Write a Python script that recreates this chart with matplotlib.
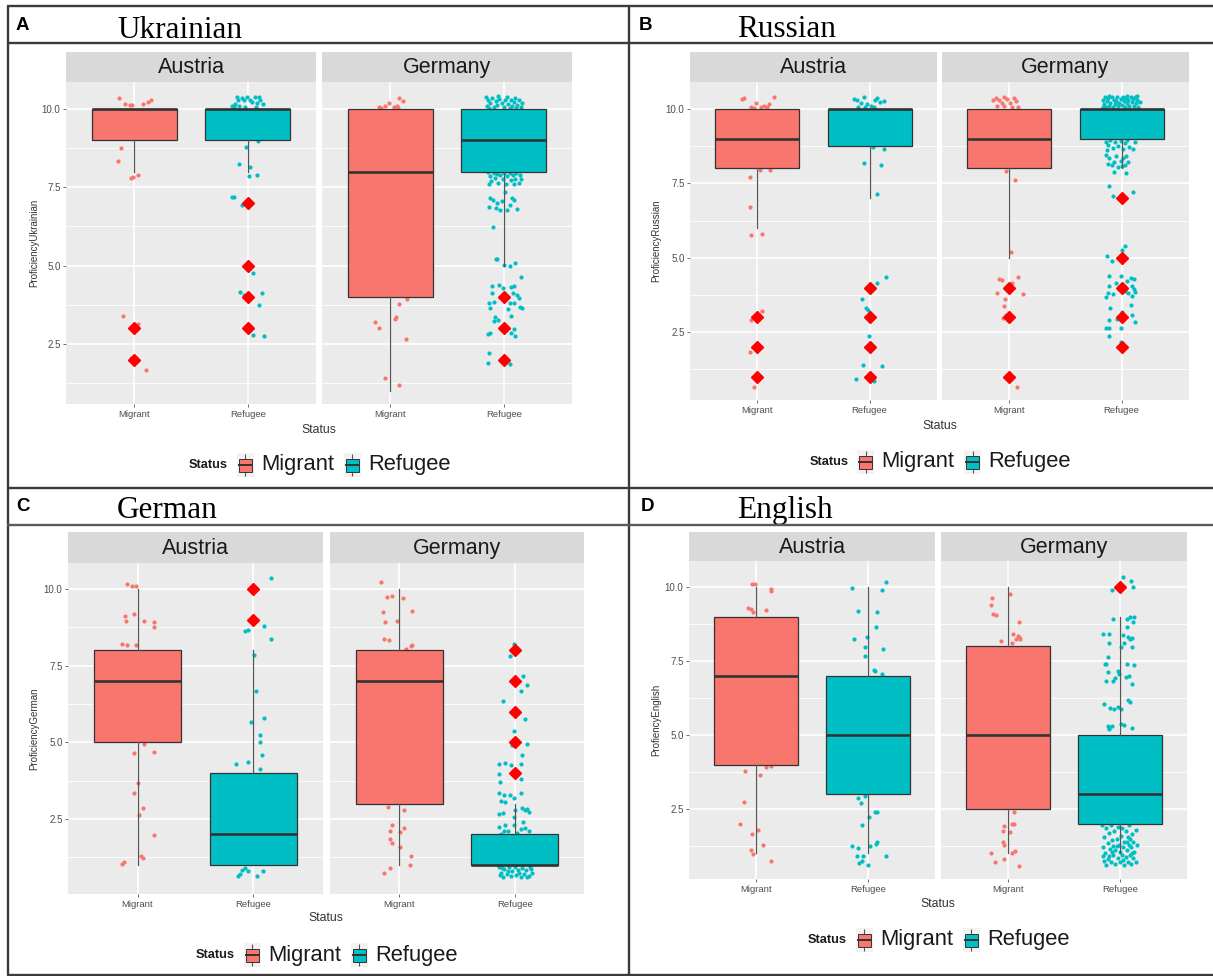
import matplotlib
matplotlib.use("Agg")
import matplotlib.pyplot as plt
from matplotlib.patches import Rectangle
from matplotlib.lines import Line2D

plt.rcParams['font.family'] = ['Liberation Sans', 'DejaVu Sans']

W, H = 1213, 976
fig = plt.figure(figsize=(W / 100, H / 100), dpi=100)
fig.patch.set_facecolor('white')

MIG_COLOR = '#F8766D'
REF_COLOR = '#00BFC4'

countries = ['Austria', 'Germany']
statuses = ['Migrant', 'Refugee']
ytick_values = [2.5, 5.0, 7.5, 10.0]
ytick_labels = ['2.5', '5.0', '7.5', '10.0']

# ---------------------------------------------------------------- data
# Box statistics in the order Austria-Migrant, Austria-Refugee,
# Germany-Migrant, Germany-Refugee.
ukr_q1 = [9, 9, 4, 8]
ukr_med = [10, 10, 8, 9]
ukr_q3 = [10, 10, 10, 10]
ukr_lo = [8, 8, 1, 5]
ukr_hi = [10, 10, 10, 10]
ukr_out = [[3, 2], [7, 5, 4, 3], [], [4, 3, 2]]

rus_q1 = [8, 8.75, 8, 9]
rus_med = [9, 10, 9, 10]
rus_q3 = [10, 10, 10, 10]
rus_lo = [6, 7, 5, 8]
rus_hi = [10, 10, 10, 10]
rus_out = [[3, 2, 1], [4, 3, 2, 1], [4, 3, 1], [7, 5, 4, 3, 2]]

ger_q1 = [5, 1, 3, 1]
ger_med = [7, 2, 7, 1]
ger_q3 = [8, 4, 8, 2]
ger_lo = [1, 1, 1, 1]
ger_hi = [10, 8, 10, 3]
ger_out = [[], [10, 9], [], [8, 7, 6, 5, 4]]

eng_q1 = [4, 3, 2.5, 2]
eng_med = [7, 5, 5, 3]
eng_q3 = [9, 7, 8, 5]
eng_lo = [1, 1, 1, 1]
eng_hi = [10, 10, 10, 9]
eng_out = [[], [], [], [10]]

# Jittered responses: (horizontal jitter, proficiency)
ukr_at_mig_pts = [(-0.13, 10.36), (-0.08, 10.15), (-0.04, 10.13), (-0.02, 10.12), (0.08, 10.16),
                  (0.125, 10.23), (0.15, 10.27), (-0.12, 8.75), (-0.14, 8.35), (-0.03, 7.8),
                  (-0.01, 7.82), (0.035, 7.9), (-0.1, 3.4), (0.035, 3.14), (-0.03, 2.05), (0.1, 1.68)]
ukr_at_ref_pts = [(-0.135, 10.1), (-0.11, 10.15), (-0.09, 10.28), (-0.075, 10.09), (-0.05, 10.34),
                  (-0.03, 10.28), (-0.005, 10.38), (0.02, 10.3), (0.04, 10.23), (0.06, 10.38),
                  (0.095, 10.37), (0.11, 10.28), (0.13, 10.15), (-0.12, 10.05), (-0.025, 10.05),
                  (0.07, 10.05), (-0.095, 10.38), (0.085, 10.2), (-0.02, 8.8), (-0.08, 8.25),
                  (0.02, 8.15), (0.01, 7.87), (0.08, 7.9), (-0.14, 7.2), (-0.12, 7.18), (-0.05, 6.95),
                  (0.09, 8.98), (0.045, 4.75), (-0.07, 4.17), (-0.035, 4.07), (0.125, 4.12),
                  (0.1, 3.75), (0.045, 2.8), (0.14, 2.74)]
ukr_de_mig_pts = [(-0.1, 10.05), (-0.045, 10.08), (-0.01, 10.18), (0.03, 10.05), (0.06, 10.1),
                  (0.08, 10.35), (0.11, 10.25), (0.07, 10.02), (-0.08, 10.02), (0.15, 3.94),
                  (0.08, 3.78), (-0.13, 3.2), (-0.1, 3.0), (0.05, 3.35), (0.04, 3.3), (0.14, 2.65),
                  (-0.05, 1.43), (0.08, 1.2)]
ukr_de_ref_pts = [(-0.16, 10.38), (-0.14, 10.3), (-0.15, 10.1), (-0.12, 10.2), (-0.1, 10.35),
                  (-0.09, 10.05), (-0.07, 10.25), (-0.06, 10.12), (-0.04, 10.32), (-0.02, 10.18),
                  (0.0, 10.06), (0.01, 10.28), (0.03, 10.38), (0.04, 10.15), (0.06, 10.3),
                  (0.07, 10.08), (0.09, 10.22), (0.1, 10.36), (0.12, 10.12), (0.13, 10.27),
                  (0.15, 10.05), (0.16, 10.18), (-0.13, 10.02), (0.05, 10.02), (-0.05, 10.4),
                  (0.11, 10.02),
                  (-0.14, 7.98), (-0.12, 7.85), (-0.11, 7.7), (-0.09, 7.95), (-0.08, 7.8),
                  (-0.06, 7.92), (-0.05, 7.65), (-0.03, 7.88), (-0.01, 7.75), (0.0, 7.95),
                  (0.02, 7.62), (0.03, 7.85), (0.05, 7.97), (0.06, 7.72), (0.08, 7.9), (0.1, 7.78),
                  (0.11, 7.96), (0.13, 7.65), (0.14, 7.88), (0.15, 7.75), (-0.13, 7.62), (0.09, 7.6),
                  (0.01, 7.34), (-0.12, 7.15), (-0.095, 7.1), (-0.06, 7.01), (-0.02, 7.05),
                  (0.07, 7.15), (0.09, 7.1), (-0.13, 6.87), (-0.07, 6.85), (-0.035, 6.76),
                  (0.025, 6.76), (0.115, 6.8), (0.05, 6.95), (-0.095, 6.23), (-0.07, 5.2),
                  (-0.06, 5.22), (0.0, 5.03), (0.05, 5.0), (0.1, 5.09), (0.15, 4.65), (-0.1, 4.36),
                  (-0.045, 4.37), (-0.01, 4.3), (0.06, 4.33), (0.09, 4.36), (-0.105, 4.12),
                  (0.08, 4.12), (0.115, 4.06), (0.13, 3.98), (-0.13, 3.8), (-0.09, 3.85),
                  (0.05, 3.82), (0.09, 3.8), (0.14, 3.67), (0.16, 3.65), (-0.12, 3.65),
                  (0.035, 3.62), (-0.08, 3.36), (-0.05, 3.28), (-0.09, 3.22), (0.06, 3.4),
                  (-0.12, 2.85), (-0.14, 2.82), (0.06, 2.85), (0.095, 2.77), (0.09, 2.98),
                  (-0.13, 2.2), (-0.14, 1.9), (0.05, 1.86)]

rus_at_mig_pts = [(-0.14, 10.32), (-0.12, 10.36), (-0.06, 10.06), (-0.01, 10.21), (0.035, 10.06),
                  (0.06, 10.1), (0.1, 10.17), (0.145, 10.39), (-0.03, 10.03), (0.09, 10.05),
                  (-0.07, 7.7), (0.02, 7.93), (0.11, 7.93), (-0.07, 6.72), (-0.06, 5.77),
                  (0.045, 5.79), (-0.06, 2.91), (0.045, 3.22), (-0.07, 1.85), (-0.03, 0.67)]
rus_at_ref_pts = [(-0.135, 10.32), (-0.11, 10.3), (-0.075, 10.19), (-0.05, 10.39), (-0.02, 10.17),
                  (0.015, 10.1), (0.05, 10.3), (0.065, 10.36), (0.09, 10.24), (0.13, 10.27),
                  (-0.04, 10.05), (-0.1, 10.05), (0.035, 10.05), (0.03, 8.73), (0.13, 8.65),
                  (-0.05, 8.17), (0.1, 8.12), (0.07, 7.13), (0.15, 4.37), (0.07, 4.17),
                  (-0.07, 3.62), (-0.03, 3.3), (-0.017, 3.25), (-0.007, 2.37), (-0.06, 1.4),
                  (0.11, 1.38), (-0.12, 0.92), (0.04, 0.87)]
rus_de_mig_pts = [(-0.145, 10.31), (-0.12, 10.36), (-0.095, 10.28), (-0.07, 10.21), (-0.045, 10.39),
                  (-0.02, 10.32), (0.007, 10.19), (0.04, 10.36), (0.057, 10.25), (-0.11, 10.1),
                  (-0.05, 10.08), (0.024, 10.05), (0.075, 10.05), (-0.03, 7.9), (0.05, 7.61),
                  (0.017, 5.18), (-0.09, 4.28), (-0.07, 4.25), (0.08, 4.37), (0.024, 4.14),
                  (-0.11, 3.83), (0.12, 3.78), (-0.04, 3.62), (-0.05, 3.38), (-0.03, 3.08),
                  (-0.06, 2.97), (0.065, 0.67)]
rus_de_ref_pts = [(-0.17, 10.3), (-0.16, 10.15), (-0.15, 10.38), (-0.14, 10.05), (-0.13, 10.25),
                  (-0.12, 10.35), (-0.11, 10.1), (-0.1, 10.2), (-0.09, 10.4), (-0.08, 10.05),
                  (-0.07, 10.3), (-0.06, 10.15), (-0.05, 10.25), (-0.04, 10.38), (-0.03, 10.08),
                  (-0.02, 10.2), (-0.01, 10.32), (0.0, 10.12), (0.01, 10.4), (0.02, 10.25),
                  (0.03, 10.05), (0.04, 10.35), (0.05, 10.18), (0.06, 10.28), (0.07, 10.08),
                  (0.08, 10.4), (0.09, 10.22), (0.1, 10.32), (0.11, 10.1), (0.12, 10.38),
                  (0.13, 10.2), (0.14, 10.3), (0.15, 10.05), (-0.165, 10.05), (0.16, 10.22),
                  (0.135, 10.42), (-0.115, 10.42), (0.05, 10.42),
                  (-0.14, 8.9), (-0.12, 8.8), (-0.1, 8.95), (-0.08, 8.7), (-0.06, 8.88),
                  (-0.03, 8.75), (-0.01, 8.92), (0.01, 8.65), (0.03, 8.85), (0.05, 8.95),
                  (0.07, 8.72), (0.1, 8.65), (-0.13, 8.62), (0.12, 8.9),
                  (-0.14, 8.45), (-0.11, 8.35), (-0.09, 8.1), (-0.07, 8.2), (-0.05, 8.4),
                  (-0.03, 8.05), (-0.01, 8.25), (0.01, 8.35), (0.03, 8.12), (0.04, 8.42),
                  (0.06, 8.2), (-0.12, 8.15), (0.0, 8.08),
                  (-0.07, 7.87), (0.04, 7.84), (-0.11, 7.42), (-0.08, 7.08), (0.1, 7.22),
                  (0.03, 5.41), (0.0, 5.26), (-0.13, 5.07), (-0.09, 4.89), (-0.11, 4.38),
                  (-0.01, 4.4), (0.08, 4.33), (0.11, 4.3), (-0.115, 4.05), (-0.05, 4.17),
                  (0.05, 4.23), (0.09, 4.05), (0.11, 3.95), (-0.125, 3.83), (-0.075, 3.77),
                  (0.03, 3.88), (0.06, 3.83), (0.12, 3.85), (0.095, 3.72), (-0.14, 3.68),
                  (-0.1, 3.32), (0.0, 3.18), (0.08, 3.4), (-0.11, 2.9), (-0.04, 2.96),
                  (0.12, 2.85), (0.09, 3.08), (-0.14, 2.63), (-0.11, 2.63), (-0.01, 2.63),
                  (-0.11, 2.37), (-0.01, 2.18)]

ger_at_mig_pts = [(-0.09, 10.16), (-0.045, 10.11), (-0.01, 10.09), (-0.11, 9.11), (-0.03, 9.2),
                  (-0.1, 8.95), (0.06, 8.95), (0.14, 8.91), (0.14, 8.76), (-0.13, 8.22),
                  (-0.09, 8.18), (-0.01, 8.18), (0.06, 4.96), (-0.03, 4.65), (0.14, 4.67),
                  (0.0, 3.67), (-0.03, 3.35), (0.05, 2.86), (0.01, 2.64), (0.14, 1.99),
                  (0.03, 1.28), (0.05, 1.23), (-0.13, 1.04), (-0.12, 1.1)]
ger_at_ref_pts = [(0.15, 10.36), (0.09, 8.8), (-0.05, 8.65), (-0.07, 8.62), (0.15, 8.38),
                  (0.003, 7.86), (0.02, 6.68), (-0.02, 5.65), (0.09, 5.79), (0.06, 5.23),
                  (0.06, 5.01), (0.07, 4.58), (-0.15, 4.3), (-0.05, 4.35), (0.06, 4.13),
                  (-0.075, 0.9), (-0.1, 0.85), (-0.13, 0.63), (0.03, 0.65), (0.085, 0.79),
                  (-0.05, 0.82), (-0.12, 0.72)]
ger_de_mig_pts = [(-0.16, 10.22), (-0.11, 9.74), (-0.065, 9.76), (0.03, 9.72), (0.11, 9.3),
                  (-0.14, 9.24), (-0.12, 8.91), (-0.02, 8.95), (-0.13, 8.37), (-0.09, 8.33),
                  (0.1, 8.13), (0.11, 8.18), (0.06, 8.04), (-0.1, 2.89), (0.04, 2.78),
                  (-0.06, 2.32), (0.04, 2.21), (-0.08, 2.1), (0.01, 2.07), (-0.08, 1.85),
                  (-0.065, 1.72), (0.01, 1.59), (0.1, 1.28), (0.09, 1.01), (-0.08, 0.9),
                  (-0.13, 0.74)]
ger_de_ref_pts = [(-0.01, 8.21), (-0.04, 7.83), (0.075, 7.18), (0.11, 6.88), (0.05, 6.66),
                  (-0.1, 6.34), (0.09, 5.76), (-0.01, 5.36), (-0.02, 4.92), (0.11, 4.96),
                  (0.065, 4.58), (-0.14, 4.3), (-0.085, 4.32), (-0.035, 4.27), (0.05, 4.3),
                  (-0.14, 3.98), (0.05, 3.8), (-0.13, 3.7), (-0.14, 3.35), (-0.09, 3.3),
                  (-0.04, 3.3), (0.05, 3.35), (-0.12, 3.1), (-0.085, 3.05), (-0.01, 3.2),
                  (-0.14, 2.68), (-0.1, 2.7), (0.0, 2.8), (0.065, 2.85), (0.085, 2.78),
                  (0.125, 2.72), (0.11, 2.83), (-0.005, 2.55), (-0.08, 2.3), (-0.14, 2.25),
                  (0.09, 2.2), (0.075, 2.4), (-0.01, 2.3), (0.05, 2.18), (-0.06, 2.1),
                  (0.125, 2.1), (-0.095, 2.1), (0.02, 2.05), (-0.12, 2.02),
                  (-0.14, 0.95), (-0.12, 0.75), (-0.1, 0.62), (-0.09, 0.88), (-0.07, 0.7),
                  (-0.05, 0.92), (-0.03, 0.65), (-0.02, 0.8), (0.0, 0.95), (0.01, 0.68),
                  (0.03, 0.85), (0.05, 0.62), (0.06, 0.9), (0.08, 0.72), (0.1, 0.83),
                  (0.12, 0.65), (0.13, 0.95), (0.15, 0.75), (-0.13, 0.68), (0.04, 0.75),
                  (-0.06, 0.82), (0.11, 0.6), (-0.11, 0.9), (0.14, 0.88)]

eng_at_mig_pts = [(-0.04, 10.09), (-0.01, 10.09), (0.13, 9.94), (0.135, 9.87), (-0.07, 9.3),
                  (-0.05, 9.25), (-0.03, 9.16), (0.085, 9.21), (-0.1, 3.79), (0.085, 3.92),
                  (0.135, 3.96), (0.035, 3.66), (-0.11, 2.73), (-0.14, 1.98), (-0.04, 1.66),
                  (0.02, 1.78), (0.06, 1.27), (-0.05, 1.13), (-0.03, 0.97), (0.13, 0.76)]
eng_at_ref_pts = [(-0.145, 9.98), (0.16, 10.17), (0.125, 9.89), (-0.085, 9.19), (0.085, 9.16),
                  (0.075, 8.65), (-0.12, 8.26), (-0.01, 8.32), (-0.03, 7.96), (0.135, 7.89),
                  (-0.025, 7.67), (0.05, 7.19), (0.06, 7.18), (0.125, 7.05), (-0.09, 2.87),
                  (-0.06, 2.7), (-0.025, 2.93), (0.06, 2.39), (0.08, 2.4), (0.01, 2.23),
                  (-0.05, 1.97), (0.08, 1.38), (0.075, 1.33), (-0.145, 1.25), (-0.085, 1.19),
                  (0.017, 1.25), (0.16, 0.91), (-0.05, 0.74), (-0.08, 0.66), (0.0, 0.6),
                  (-0.095, 0.91), (-0.04, 0.92)]
eng_de_mig_pts = [(-0.145, 9.64), (-0.15, 9.38), (-0.135, 9.1), (-0.11, 9.05), (0.017, 9.78),
                  (0.095, 8.82), (0.044, 8.41), (0.085, 8.35), (0.07, 8.24), (0.11, 8.24),
                  (-0.06, 8.18), (0.034, 8.11), (0.1, 8.3), (0.05, 2.39), (-0.034, 1.92),
                  (0.05, 2.0), (0.034, 2.0), (-0.05, 1.75), (0.017, 1.72), (-0.05, 1.39),
                  (-0.034, 1.3), (-0.15, 1.02), (0.034, 1.0), (0.06, 1.08), (-0.04, 0.82),
                  (-0.12, 0.71), (0.1, 0.57)]
eng_de_ref_pts = [(0.024, 10.34), (0.1, 10.22), (0.12, 10.0), (-0.07, 9.89), (-0.06, 8.93),
                  (0.06, 8.93), (0.09, 9.0), (0.13, 9.0), (0.12, 8.82), (-0.15, 8.4),
                  (-0.1, 8.4), (0.03, 8.37), (0.075, 8.3), (-0.095, 8.11), (0.04, 8.1),
                  (0.09, 8.24), (0.11, 8.28), (0.01, 7.98), (0.06, 8.65), (0.11, 7.98),
                  (-0.11, 7.64), (-0.13, 7.4), (-0.12, 7.4), (0.13, 7.38), (0.065, 7.4),
                  (-0.02, 7.15), (-0.01, 7.06), (-0.105, 7.12), (0.085, 7.0), (-0.04, 6.93),
                  (-0.06, 6.82), (0.05, 6.95), (-0.12, 6.83), (0.11, 6.71), (0.075, 6.2),
                  (0.09, 6.13), (-0.14, 6.05), (-0.085, 5.9), (-0.05, 5.87), (0.007, 5.87),
                  (-0.02, 5.95), (-0.11, 5.3), (-0.095, 5.25), (-0.07, 5.3), (0.04, 5.35),
                  (0.11, 5.25), (0.007, 5.38), (-0.1, 5.2),
                  (-0.16, 1.95), (-0.15, 1.2), (-0.14, 0.75), (-0.14, 1.55), (-0.13, 1.0),
                  (-0.12, 1.85), (-0.12, 0.62), (-0.11, 1.35), (-0.1, 0.9), (-0.1, 1.7),
                  (-0.09, 1.15), (-0.08, 0.7), (-0.08, 1.95), (-0.07, 1.45), (-0.06, 0.95),
                  (-0.06, 1.25), (-0.05, 1.75), (-0.04, 0.65), (-0.04, 1.1), (-0.03, 1.5),
                  (-0.02, 0.85), (-0.02, 1.9), (-0.01, 1.3), (0.0, 0.7), (0.0, 1.05),
                  (0.01, 1.6), (0.02, 0.95), (0.02, 1.85), (0.03, 1.2), (0.04, 0.62),
                  (0.04, 1.4), (0.05, 0.88), (0.05, 1.75), (0.06, 1.1), (0.07, 0.72),
                  (0.07, 1.55), (0.08, 1.3), (0.08, 1.95), (0.09, 0.95), (0.1, 1.2),
                  (0.1, 0.65), (0.11, 1.65), (0.12, 0.85), (0.12, 1.4), (0.13, 1.05),
                  (0.14, 1.8), (0.14, 0.7), (0.15, 1.3), (-0.15, 0.9), (-0.11, 0.8),
                  (0.03, 0.78), (0.09, 1.48), (-0.07, 1.05), (0.11, 1.0), (-0.03, 1.25),
                  (0.06, 1.4)]

# ---------------------------------------------------------------- layout (pixels)
panels = [
    dict(letter='A', title='Ukrainian', ylabel='ProficiencyUkrainian',
         q1=ukr_q1, med=ukr_med, q3=ukr_q3, lo=ukr_lo, hi=ukr_hi, out=ukr_out,
         pts=[ukr_at_mig_pts, ukr_at_ref_pts, ukr_de_mig_pts, ukr_de_ref_pts],
         facets=[(66, 316), (322, 572)], strip=(52, 82), plot=(82, 404), ylim=(0.585, 10.86),
         letter_xy=(16, 30), title_xy=(117, 38), ylab_x=34, status_y=430, legend_y=465),
    dict(letter='B', title='Russian', ylabel='ProficiencyRussian',
         q1=rus_q1, med=rus_med, q3=rus_q3, lo=rus_lo, hi=rus_hi, out=rus_out,
         pts=[rus_at_mig_pts, rus_at_ref_pts, rus_de_mig_pts, rus_de_ref_pts],
         facets=[(690, 937), (942, 1189)], strip=(52, 82), plot=(82, 400), ylim=(0.226, 10.9),
         letter_xy=(639, 30), title_xy=(737, 37), ylab_x=656, status_y=426, legend_y=462),
    dict(letter='C', title='German', ylabel='ProficiencyGerman',
         q1=ger_q1, med=ger_med, q3=ger_q3, lo=ger_lo, hi=ger_hi, out=ger_out,
         pts=[ger_at_mig_pts, ger_at_ref_pts, ger_de_mig_pts, ger_de_ref_pts],
         facets=[(68, 323), (330, 584)], strip=(532, 563), plot=(563, 894), ylim=(0.055, 10.85),
         letter_xy=(16, 511), title_xy=(117, 518), ylab_x=34, status_y=918, legend_y=955),
    dict(letter='D', title='English', ylabel='ProfiencyEnglish',
         q1=eng_q1, med=eng_med, q3=eng_q3, lo=eng_lo, hi=eng_hi, out=eng_out,
         pts=[eng_at_mig_pts, eng_at_ref_pts, eng_de_mig_pts, eng_de_ref_pts],
         facets=[(689, 935), (941, 1187)], strip=(532, 561), plot=(561, 879), ylim=(0.135, 10.88),
         letter_xy=(641, 511), title_xy=(737, 518), ylab_x=656, status_y=904, legend_y=940),
]


def fx(px):
    return px / W


def fy(py):
    return 1 - py / H


def px_axes(x0, y0, x1, y1):
    return fig.add_axes([fx(x0), fy(y1), (x1 - x0) / W, (y1 - y0) / H])


def fig_line(xs, ys, lw=1.7, color='#3a3a3a', z=10):
    fig.add_artist(Line2D([fx(v) for v in xs], [fy(v) for v in ys],
                          transform=fig.transFigure, lw=lw, color=color,
                          solid_capstyle='butt', zorder=z))


def legend_key(cx, cy, color):
    w, h = 17, 24
    fig.add_artist(Rectangle((fx(cx - w / 2), fy(cy + h / 2)), w / W, h / H,
                             transform=fig.transFigure, facecolor='#F2F2F2',
                             edgecolor='none', zorder=5))
    fig_line([cx, cx], [cy - 11, cy + 11], lw=0.8, color='#555555', z=6)
    bw, bh = 13, 13
    fig.add_artist(Rectangle((fx(cx - bw / 2), fy(cy + bh / 2)), bw / W, bh / H,
                             transform=fig.transFigure, facecolor=color,
                             edgecolor='#333333', lw=0.7, zorder=11))
    fig.add_artist(Line2D([fx(cx - bw / 2), fx(cx + bw / 2)], [fy(cy), fy(cy)],
                          transform=fig.transFigure, lw=1.4, color='#333333', zorder=12))


def draw_panel(p):
    sy0, sy1 = p['strip']
    py0, py1 = p['plot']
    for c, (x0, x1) in enumerate(p['facets']):
        # facet strip
        sax = px_axes(x0, sy0, x1, sy1)
        sax.set_facecolor('#D9D9D9')
        sax.set_xticks([])
        sax.set_yticks([])
        for s in sax.spines.values():
            s.set_visible(False)
        sax.text(0.5, 0.47, countries[c], ha='center', va='center', fontsize=15.5,
                 color='#1A1A1A', transform=sax.transAxes)

        ax = px_axes(x0, py0, x1, py1)
        ax.set_facecolor('#EBEBEB')
        for s in ax.spines.values():
            s.set_visible(False)
        ax.set_axisbelow(True)

        # jittered responses
        for g in range(2):
            pts = p['pts'][2 * c + g]
            xs = [g + 1 + d for d, _ in pts]
            ys = [v for _, v in pts]
            ax.scatter(xs, ys, s=9, color=[MIG_COLOR, REF_COLOR][g], linewidths=0, zorder=2)

        stats = []
        for g in range(2):
            i = 2 * c + g
            stats.append(dict(whislo=p['lo'][i], q1=p['q1'][i], med=p['med'][i],
                              q3=p['q3'][i], whishi=p['hi'][i], fliers=p['out'][i]))
        bp = ax.bxp(stats, positions=[1, 2], widths=0.75, patch_artist=True,
                    showcaps=False, showfliers=True, zorder=3, manage_ticks=False,
                    boxprops=dict(edgecolor='#333333', linewidth=0.9),
                    medianprops=dict(color='#333333', linewidth=1.9, solid_capstyle='butt'),
                    whiskerprops=dict(color='#555555', linewidth=0.9),
                    flierprops=dict(marker='D', markerfacecolor='#FF0000',
                                    markeredgecolor='#FF0000', markersize=6.3,
                                    linestyle='none'))
        for patch, col in zip(bp['boxes'], [MIG_COLOR, REF_COLOR]):
            patch.set_facecolor(col)
        for fl in bp['fliers']:
            fl.set_zorder(5)

        ax.set_xlim(0.4, 2.6)
        ax.set_ylim(*p['ylim'])
        ax.set_yticks(ytick_values)
        ax.set_yticks([1.25, 3.75, 6.25, 8.75], minor=True)
        ax.set_xticks([1, 2])
        ax.set_xticklabels(statuses)
        ax.grid(which='major', color='white', lw=1.2)
        ax.grid(which='minor', axis='y', color='white', lw=0.6)
        ax.tick_params(axis='x', length=2.5, width=0.6, color='#555555', pad=2,
                       labelsize=6.8, labelcolor='#4D4D4D')
        ax.tick_params(which='minor', length=0)
        if c == 0:
            ax.set_yticklabels(ytick_labels)
            ax.tick_params(axis='y', length=2.5, width=0.6, color='#555555', pad=1.5,
                           labelsize=7, labelcolor='#4D4D4D')
        else:
            ax.tick_params(axis='y', length=0, labelleft=False)

    left = p['facets'][0][0]
    right = p['facets'][1][1]
    cx = (left + right) / 2
    fig.text(fx(p['ylab_x']), fy((py0 + py1) / 2), p['ylabel'], rotation=90,
             ha='center', va='center', fontsize=7, color='#333333')
    fig.text(fx(cx), fy(p['status_y']), 'Status', ha='center', va='center',
             fontsize=8.8, color='#333333')

    ly = p['legend_y']
    fig.text(fx(cx - 130), fy(ly), 'Status', ha='left', va='center', fontsize=9.2,
             fontweight='bold', color='#1A1A1A')
    legend_key(cx - 74, ly, MIG_COLOR)
    fig.text(fx(cx - 58), fy(ly), 'Migrant', ha='left', va='center', fontsize=15.8,
             color='#1A1A1A')
    legend_key(cx + 33, ly, REF_COLOR)
    fig.text(fx(cx + 49), fy(ly), 'Refugee', ha='left', va='center', fontsize=15.8,
             color='#1A1A1A')

    lx, lyb = p['letter_xy']
    fig.text(fx(lx), fy(lyb), p['letter'], ha='left', va='baseline', fontsize=13.5,
             fontweight='bold', color='black')
    tx, tyb = p['title_xy']
    fig.text(fx(tx), fy(tyb), p['title'], ha='left', va='baseline', fontsize=22.5,
             family=['Liberation Serif', 'DejaVu Serif'], color='black')


for p in panels:
    draw_panel(p)

# frame lines around the four panels
fig_line([7, W], [6, 6])
fig_line([7, W], [975, 975])
fig_line([7.5, 7.5], [6, 975])
fig_line([629, 629], [6, 975])
fig_line([7, W], [43, 43])
fig_line([7, W], [488, 488])
fig_line([7, W], [525, 525], color='#5a5a5a')

fig.savefig('out.png', dpi=100)
